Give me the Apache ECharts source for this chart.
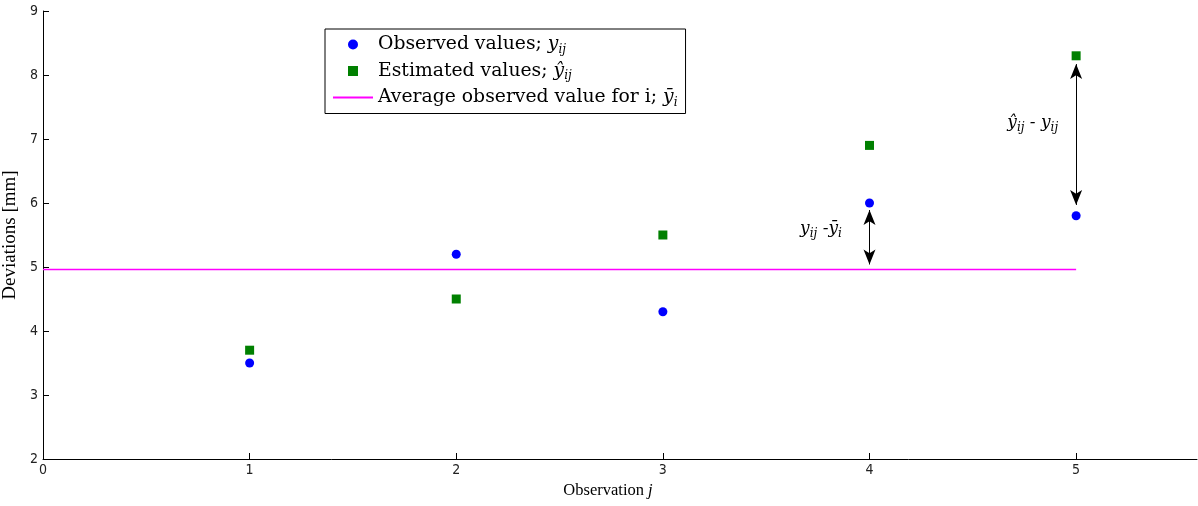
<!DOCTYPE html>
<html>
<head>
<meta charset="utf-8">
<script src="https://cdn.jsdelivr.net/npm/echarts@6/dist/echarts.min.js"></script>
<style>html,body{margin:0;padding:0;background:#fff}#c{width:1198px;height:506px}</style>
</head>
<body>
<div id="c"></div>
<script>
// ---- data ----
const observations = [1, 2, 3, 4, 5];
const observedValues = [3.5, 5.2, 4.3, 6.0, 5.8];
const estimatedValues = [3.7, 4.5, 5.5, 6.9, 8.3];
const averageObserved = 4.96;
const averageRange = [0, 5];
const xTicks = [0, 1, 2, 3, 4, 5];
const yTicks = [2, 3, 4, 5, 6, 7, 8, 9];
const arrowDevMean = [[4, 5.89], [4, 5.04]];
const arrowEstObs = [[5, 8.17], [5, 5.97]];
const annotPoints = [[3.765, 5.6, 'mean'], [4.79, 7.25, 'est']];

const serif = 'DejaVu Serif';
const tickFont = "'Liberation Sans Narrow', 'DejaVu Sans Condensed', 'Liberation Sans', sans-serif";
const chart = echarts.init(document.getElementById('c'), null, {renderer: 'canvas'});

const richStyles = {
  t: {fontFamily: serif, fontSize: 18.8, color: '#000', lineHeight: 22},
  m: {fontFamily: serif, fontSize: 18.8, fontStyle: 'italic', color: '#000', lineHeight: 22},
  s: {fontFamily: serif, fontSize: 12, fontStyle: 'italic', color: '#000', lineHeight: 12, verticalAlign: 'bottom'},
  xt: {fontFamily: 'Liberation Serif', fontSize: 16.5, color: '#000', lineHeight: 20},
  xm: {fontFamily: 'Liberation Serif', fontSize: 16.5, fontStyle: 'italic', color: '#000', lineHeight: 20},
  yt: {fontFamily: 'Liberation Serif', fontSize: 19, color: '#000', lineHeight: 22},
  am: {fontFamily: serif, fontSize: 17, fontStyle: 'italic', color: '#000', lineHeight: 22},
  as: {fontFamily: serif, fontSize: 12, fontStyle: 'italic', color: '#000', lineHeight: 12, verticalAlign: 'bottom'}
};

const legendText = {
  'Observed values': '{t|Observed values; }{m|y}{s|ij}',
  'Estimated values': '{t|Estimated values; }{m|ŷ}{s|ij}',
  'Average observed value': '{t|Average observed value for i; }{m|ȳ}{s|i}'
};

chart.setOption({
  animation: false,
  backgroundColor: '#fff',
  grid: {left: 43, right: 1, top: 11, bottom: 47, containLabel: false, outerBoundsMode: 'none'},
  legend: {
    data: [
      {name: 'Observed values', icon: 'circle'},
      {name: 'Estimated values', icon: 'path://M0,0L10,0L10,10L0,10Z'},
      {name: 'Average observed value', icon: 'path://M0,0L40,0L40,2L0,2Z'}
    ],
    orient: 'vertical',
    left: 325, top: 29,
    itemWidth: 40, itemHeight: 10, itemGap: 6,
    padding: [6, 8, 5, 8],
    borderColor: '#000', borderWidth: 1, backgroundColor: '#fff',
    selectedMode: false,
    formatter: n => legendText[n],
    textStyle: {rich: richStyles}
  },
  xAxis: {
    type: 'value', min: 0, max: 5.585,
    name: '{xt|Observation }{xm|j}', nameLocation: 'middle', nameGap: 22,
    nameTextStyle: {rich: richStyles, padding: [0, 24, 0, 0]},
    axisLine: {show: true, lineStyle: {color: '#000', width: 1}},
    axisTick: {show: true, inside: true, length: 6, customValues: xTicks, lineStyle: {color: '#000'}},
    axisLabel: {customValues: xTicks, color: '#222', fontSize: 14, fontFamily: tickFont, margin: 4},
    splitLine: {show: false}
  },
  yAxis: {
    type: 'value', min: 2, max: 9, interval: 1,
    name: '{yt|Deviations [mm]}', nameLocation: 'middle', nameGap: 15, nameRotate: 90,
    nameTextStyle: {rich: richStyles},
    axisLine: {show: true, lineStyle: {color: '#000', width: 1}},
    axisTick: {show: true, inside: true, length: 6, lineStyle: {color: '#000'}},
    axisLabel: {color: '#222', fontSize: 14, fontFamily: tickFont, margin: 5},
    splitLine: {show: false}
  },
  series: [
    {
      name: 'Observed values', type: 'scatter', symbol: 'circle', symbolSize: 9,
      itemStyle: {color: '#0000ff', opacity: 1},
      data: observations.map((x, i) => [x, observedValues[i]])
    },
    {
      name: 'Estimated values', type: 'scatter', symbol: 'rect', symbolSize: 9,
      itemStyle: {color: '#008000', opacity: 1},
      data: observations.map((x, i) => [x, estimatedValues[i]])
    },
    {
      name: 'Average observed value', type: 'line', symbol: 'none', showSymbol: false,
      lineStyle: {color: '#ff00ff', width: 1.6}, itemStyle: {color: '#ff00ff'},
      data: averageRange.map(x => [x, averageObserved])
    },
    {
      name: 'annotations', type: 'scatter', symbolSize: 0, silent: true,
      itemStyle: {opacity: 1},
      data: annotPoints,
      label: {
        show: true, position: 'inside', color: '#000', opacity: 1,
        formatter: p => p.value[2] === 'mean'
          ? '{am|y}{as|ij}{am| -ȳ}{as|i}'
          : '{am|ŷ}{as|ij}{am| - y}{as|ij}',
        rich: richStyles
      },
      markLine: {
        silent: true, symbol: ['arrow', 'arrow'], symbolSize: [9, 15],
        lineStyle: {color: '#000', width: 1, type: 'solid', opacity: 1},
        itemStyle: {color: '#000'},
        label: {show: false},
        data: [
          [{coord: arrowDevMean[0]}, {coord: arrowDevMean[1]}],
          [{coord: arrowEstObs[0]}, {coord: arrowEstObs[1]}]
        ]
      }
    }
  ]
});
</script>
</body>
</html>
